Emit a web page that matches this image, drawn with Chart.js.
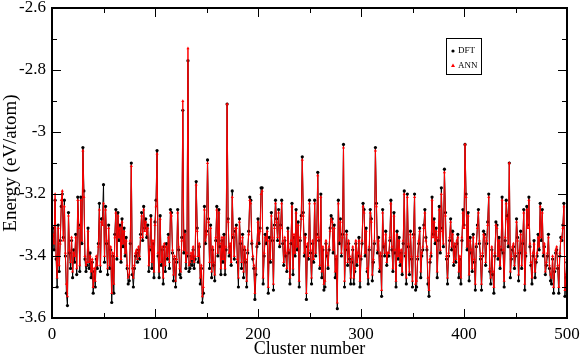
<!DOCTYPE html>
<html>
<head>
<meta charset="utf-8">
<script src="https://cdn.jsdelivr.net/npm/chart.js@4.4.1/dist/chart.umd.min.js"></script>
<style>
  html, body { margin: 0; padding: 0; background: #fff; }
  #wrap { width: 581px; height: 360px; position: relative; }
</style>
</head>
<body>
<div id="wrap"><canvas id="energyChart"></canvas></div>
<script>
// --- Data ---
const dftEnergy = [
  -3.31,-3.38,-3.22,-3.41,-3.50,-3.30,-3.45,-3.35,-3.24,-3.20,
  -3.34,-3.22,-3.40,-3.52,-3.56,-3.26,-3.39,-3.44,-3.35,-3.47,
  -3.38,-3.42,-3.33,-3.46,-3.21,-3.30,-3.45,-3.21,-3.36,-3.05,
  -3.19,-3.41,-3.45,-3.43,-3.31,-3.44,-3.39,-3.47,-3.42,-3.52,
  -3.45,-3.50,-3.41,-3.44,-3.36,-3.23,-3.45,-3.28,-3.28,-3.17,
  -3.42,-3.24,-3.36,-3.46,-3.30,-3.44,-3.38,-3.55,-3.40,-3.52,
  -3.33,-3.25,-3.41,-3.26,-3.35,-3.30,-3.42,-3.28,-3.37,-3.31,
  -3.40,-3.34,-3.44,-3.49,-3.48,-3.36,-3.10,-3.46,-3.50,-3.44,
  -3.40,-3.39,-3.42,-3.38,-3.41,-3.33,-3.26,-3.35,-3.24,-3.31,
  -3.28,-3.34,-3.30,-3.45,-3.38,-3.27,-3.44,-3.36,-3.47,-3.29,
  -3.22,-3.06,-3.40,-3.47,-3.27,-3.43,-3.38,-3.49,-3.37,-3.45,
  -3.36,-3.41,-3.33,-3.44,-3.25,-3.26,-3.39,-3.48,-3.41,-3.50,
  -3.42,-3.25,-3.38,-3.46,-3.47,-3.34,-2.93,-3.39,-3.32,-3.44,
  -3.40,-2.77,-3.45,-3.44,-3.40,-3.43,-3.38,-3.44,-3.41,-3.16,
  -3.31,-3.42,-3.37,-3.49,-3.44,-3.55,-3.52,-3.24,-3.36,-3.32,
  -3.09,-3.28,-3.44,-3.30,-3.47,-3.38,-3.43,-3.48,-3.35,-3.24,
  -3.40,-3.25,-3.37,-3.46,-3.35,-3.42,-3.33,-3.46,-3.38,-2.91,
  -3.28,-3.40,-3.37,-3.43,-3.19,-3.34,-3.41,-3.32,-3.30,-3.42,
  -3.50,-3.28,-3.36,-3.44,-3.33,-3.47,-3.38,-3.42,-3.50,-3.39,
  -3.32,-3.21,-3.22,-3.36,-3.41,-3.44,-3.54,-3.46,-3.37,-3.28,
  -3.36,-3.31,-3.18,-3.18,-3.49,-3.40,-3.33,-3.36,-3.31,-3.52,
  -3.34,-3.42,-3.26,-3.35,-3.51,-3.30,-3.22,-3.28,-3.35,-3.25,
  -3.37,-3.30,-3.22,-3.36,-3.43,-3.35,-3.40,-3.45,-3.31,-3.39,
  -3.49,-3.36,-3.23,-3.46,-3.34,-3.40,-3.25,-3.38,-3.29,-3.50,
  -3.35,-3.27,-3.08,-3.26,-3.40,-3.33,-3.54,-3.37,-3.41,-3.22,
  -3.39,-3.49,-3.36,-3.42,-3.22,-3.40,-3.33,-3.13,-3.35,-3.44,
  -3.20,-3.47,-3.38,-3.51,-3.50,-3.36,-3.40,-3.44,-3.38,-3.31,
  -3.27,-3.28,-3.39,-3.30,-3.47,-3.41,-3.57,-3.22,-3.36,-3.28,
  -3.40,-3.33,-3.04,-3.50,-3.38,-3.32,-3.43,-3.36,-3.41,-3.49,
  -3.42,-3.38,-3.49,-3.45,-3.36,-3.43,-3.40,-3.34,-3.50,-3.41,
  -3.36,-3.23,-3.25,-3.40,-3.31,-3.45,-3.49,-3.38,-3.25,-3.28,
  -3.48,-3.42,-3.36,-3.05,-3.23,-3.39,-3.34,-3.45,-3.40,-3.53,
  -3.25,-3.37,-3.40,-3.32,-3.43,-3.40,-3.40,-3.35,-3.22,-3.38,
  -3.45,-3.26,-3.39,-3.50,-3.32,-3.41,-3.34,-3.43,-3.39,-3.46,
  -3.36,-3.19,-3.40,-3.49,-3.20,-3.37,-3.46,-3.32,-3.41,-3.50,
  -3.33,-3.20,-3.51,-3.50,-3.41,-3.36,-3.31,-3.47,-3.40,-3.38,
  -3.30,-3.25,-3.34,-3.38,-3.49,-3.53,-3.42,-3.40,-3.21,-3.33,
  -3.28,-3.36,-3.31,-3.47,-3.35,-3.24,-3.39,-3.18,-3.31,-3.37,
  -3.12,-3.26,-3.41,-3.49,-3.40,-3.35,-3.28,-3.38,-3.32,-3.43,
  -3.37,-3.42,-3.36,-3.33,-3.47,-3.41,-3.49,-3.35,-3.25,-3.30,
  -3.04,-3.20,-3.38,-3.26,-3.48,-3.34,-3.39,-3.45,-3.33,-3.42,
  -3.51,-3.37,-3.30,-3.25,-3.36,-3.41,-3.51,-3.40,-3.32,-3.33,
  -3.43,-3.36,-3.29,-3.20,-3.45,-3.49,-3.38,-3.46,-3.52,-3.40,
  -3.29,-3.30,-3.41,-3.34,-3.44,-3.38,-3.21,-3.39,-3.50,-3.35,
  -3.22,-3.27,-3.37,-3.10,-3.47,-3.41,-3.38,-3.37,-3.44,-3.40,
  -3.28,-3.34,-3.48,-3.39,-3.32,-3.44,-3.36,-3.25,-3.51,-3.40,
  -3.24,-3.30,-3.21,-3.37,-3.43,-3.49,-3.40,-3.35,-3.47,-3.42,
  -3.40,-3.33,-3.38,-3.23,-3.35,-3.25,-3.40,-3.37,-3.46,-3.43,
  -3.40,-3.33,-3.44,-3.48,-3.49,-3.41,-3.52,-3.45,-3.39,-3.38,
  -3.44,-3.52,-3.40,-3.34,-3.35,-3.30,-3.23,-3.53,-3.47,-3.42
];

const annEnergy = [
  -3.33,-3.36,-3.20,-3.40,-3.47,-3.31,-3.43,-3.36,-3.22,-3.19,
  -3.35,-3.24,-3.39,-3.49,-3.53,-3.27,-3.38,-3.42,-3.34,-3.45,
  -3.39,-3.40,-3.34,-3.44,-3.22,-3.31,-3.43,-3.22,-3.35,-3.06,
  -3.21,-3.40,-3.43,-3.42,-3.32,-3.42,-3.40,-3.45,-3.41,-3.50,
  -3.44,-3.48,-3.40,-3.43,-3.37,-3.25,-3.43,-3.29,-3.30,-3.23,
  -3.40,-3.25,-3.35,-3.44,-3.31,-3.43,-3.37,-3.52,-3.39,-3.49,
  -3.34,-3.26,-3.40,-3.27,-3.34,-3.31,-3.41,-3.29,-3.36,-3.32,
  -3.39,-3.35,-3.43,-3.47,-3.46,-3.35,-3.11,-3.44,-3.47,-3.43,
  -3.39,-3.38,-3.41,-3.37,-3.40,-3.34,-3.27,-3.34,-3.25,-3.32,
  -3.29,-3.33,-3.31,-3.43,-3.37,-3.28,-3.42,-3.35,-3.45,-3.30,
  -3.24,-3.07,-3.39,-3.45,-3.28,-3.42,-3.37,-3.47,-3.36,-3.43,
  -3.37,-3.40,-3.34,-3.42,-3.26,-3.27,-3.38,-3.46,-3.40,-3.48,
  -3.41,-3.26,-3.37,-3.44,-3.45,-3.35,-2.90,-3.38,-3.33,-3.42,
  -3.39,-2.73,-3.43,-3.42,-3.39,-3.41,-3.37,-3.42,-3.40,-3.17,
  -3.32,-3.40,-3.36,-3.47,-3.43,-3.53,-3.50,-3.25,-3.35,-3.33,
  -3.10,-3.29,-3.42,-3.31,-3.45,-3.37,-3.42,-3.46,-3.34,-3.25,
  -3.39,-3.26,-3.36,-3.44,-3.34,-3.41,-3.34,-3.44,-3.37,-2.91,
  -3.29,-3.39,-3.36,-3.42,-3.21,-3.33,-3.40,-3.31,-3.31,-3.41,
  -3.47,-3.29,-3.35,-3.42,-3.34,-3.45,-3.37,-3.41,-3.48,-3.38,
  -3.33,-3.22,-3.23,-3.35,-3.40,-3.43,-3.52,-3.44,-3.36,-3.29,
  -3.35,-3.32,-3.20,-3.19,-3.47,-3.39,-3.34,-3.35,-3.32,-3.50,
  -3.35,-3.41,-3.27,-3.34,-3.49,-3.31,-3.23,-3.29,-3.34,-3.26,
  -3.36,-3.31,-3.23,-3.35,-3.42,-3.34,-3.39,-3.44,-3.32,-3.38,
  -3.47,-3.35,-3.24,-3.44,-3.33,-3.39,-3.26,-3.37,-3.30,-3.48,
  -3.34,-3.28,-3.09,-3.27,-3.39,-3.34,-3.52,-3.36,-3.40,-3.23,
  -3.38,-3.47,-3.35,-3.41,-3.23,-3.39,-3.34,-3.14,-3.34,-3.43,
  -3.21,-3.45,-3.37,-3.49,-3.48,-3.35,-3.39,-3.43,-3.37,-3.32,
  -3.28,-3.29,-3.38,-3.31,-3.45,-3.40,-3.55,-3.23,-3.35,-3.29,
  -3.39,-3.34,-3.05,-3.48,-3.37,-3.33,-3.42,-3.35,-3.40,-3.47,
  -3.41,-3.37,-3.47,-3.44,-3.35,-3.42,-3.39,-3.35,-3.48,-3.40,
  -3.35,-3.24,-3.26,-3.39,-3.32,-3.44,-3.47,-3.37,-3.26,-3.29,
  -3.46,-3.41,-3.35,-3.06,-3.24,-3.38,-3.35,-3.44,-3.39,-3.51,
  -3.26,-3.36,-3.39,-3.33,-3.42,-3.39,-3.39,-3.34,-3.23,-3.37,
  -3.44,-3.27,-3.38,-3.48,-3.33,-3.40,-3.35,-3.42,-3.38,-3.45,
  -3.35,-3.20,-3.39,-3.47,-3.21,-3.36,-3.45,-3.33,-3.40,-3.48,
  -3.34,-3.21,-3.49,-3.48,-3.40,-3.35,-3.32,-3.45,-3.39,-3.37,
  -3.31,-3.26,-3.35,-3.37,-3.47,-3.51,-3.41,-3.39,-3.22,-3.34,
  -3.29,-3.35,-3.32,-3.45,-3.34,-3.25,-3.38,-3.20,-3.32,-3.36,
  -3.13,-3.27,-3.40,-3.47,-3.39,-3.34,-3.29,-3.37,-3.33,-3.42,
  -3.36,-3.41,-3.35,-3.34,-3.45,-3.40,-3.47,-3.34,-3.26,-3.31,
  -3.04,-3.21,-3.37,-3.27,-3.46,-3.35,-3.38,-3.44,-3.34,-3.41,
  -3.49,-3.36,-3.31,-3.26,-3.35,-3.40,-3.49,-3.39,-3.33,-3.34,
  -3.42,-3.35,-3.30,-3.21,-3.44,-3.47,-3.37,-3.45,-3.50,-3.39,
  -3.30,-3.31,-3.40,-3.35,-3.43,-3.37,-3.22,-3.38,-3.48,-3.34,
  -3.23,-3.28,-3.36,-3.10,-3.45,-3.40,-3.37,-3.36,-3.43,-3.39,
  -3.29,-3.35,-3.46,-3.38,-3.33,-3.43,-3.35,-3.26,-3.49,-3.39,
  -3.25,-3.31,-3.22,-3.36,-3.42,-3.47,-3.39,-3.36,-3.45,-3.41,
  -3.39,-3.34,-3.37,-3.24,-3.34,-3.26,-3.39,-3.36,-3.45,-3.42,
  -3.39,-3.34,-3.43,-3.46,-3.47,-3.40,-3.50,-3.44,-3.38,-3.37,
  -3.43,-3.50,-3.39,-3.35,-3.34,-3.31,-3.24,-3.51,-3.46,-3.41
];

const xTicks = [0, 100, 200, 300, 400, 500];
const yTicks = [-3.6, -3.4, -3.2, -3.0, -2.8, -2.6];
const xMinorStep = 50;
const yMinorStep = 0.1;

const serif = '"Liberation Serif", "DejaVu Serif", serif';

// cluster number = position in the list
const toPoints = arr => arr.map((v, i) => ({ x: i + 1, y: v }));

// --- Frame, inward ticks and legend box (xmgrace style) ---
const framePlugin = {
    id: 'frame',
    afterDraw(chart) {
        const { ctx, chartArea: a, scales: { x, y } } = chart;
        ctx.save();
        ctx.strokeStyle = '#000';

        ctx.lineWidth = 1;
        const tick = (px, len, vertical) => {
            ctx.beginPath();
            if (vertical) {
                ctx.moveTo(px, a.bottom); ctx.lineTo(px, a.bottom - len);
                ctx.moveTo(px, a.top); ctx.lineTo(px, a.top + len);
            } else {
                ctx.moveTo(a.left, px); ctx.lineTo(a.left + len, px);
                ctx.moveTo(a.right, px); ctx.lineTo(a.right - len, px);
            }
            ctx.stroke();
        };
        for (let v = xTicks[0]; v <= xTicks[xTicks.length - 1]; v += xMinorStep) {
            const major = xTicks.includes(v);
            tick(Math.round(x.getPixelForValue(v)) + 0.5, major ? 9 : 5, true);
        }
        for (let k = 0; k <= 10; k++) {
            const v = yTicks[0] + k * yMinorStep;
            tick(Math.round(y.getPixelForValue(v)) + 0.5, k % 2 === 0 ? 9 : 5, false);
        }

        ctx.lineWidth = 2;
        ctx.strokeRect(a.left, a.top, a.right - a.left, a.bottom - a.top);

        // legend
        ctx.lineWidth = 1;
        ctx.strokeRect(446.5, 38.5, 35, 36);
        ctx.fillStyle = '#000';
        ctx.beginPath();
        ctx.arc(453, 51, 1.6, 0, Math.PI * 2);
        ctx.fill();
        ctx.fillStyle = '#ff0000';
        ctx.beginPath();
        ctx.moveTo(453, 63.5); ctx.lineTo(455, 67); ctx.lineTo(451, 67);
        ctx.closePath();
        ctx.fill();
        ctx.fillStyle = '#000';
        ctx.font = '9px ' + serif;
        ctx.textBaseline = 'middle';
        ctx.fillText('DFT', 458, 51);
        ctx.fillText('ANN', 458, 66);
        ctx.restore();
    }
};

const ctx = document.getElementById('energyChart').getContext('2d');
new Chart(ctx, {
    type: 'line',
    data: {
        datasets: [
            {
                label: 'ANN',
                data: toPoints(annEnergy),
                borderColor: '#ff0000',
                backgroundColor: '#ff0000',
                borderWidth: 1,
                pointStyle: 'triangle',
                pointRadius: 1.8,
                pointBorderWidth: 0,
                order: 0
            },
            {
                label: 'DFT',
                data: toPoints(dftEnergy),
                borderColor: '#000000',
                backgroundColor: '#000000',
                borderWidth: 1,
                pointStyle: 'circle',
                pointRadius: 1.6,
                pointBorderWidth: 0,
                order: 1
            }
        ]
    },
    options: {
        responsive: true,
        maintainAspectRatio: false,
        animation: false,
        layout: { padding: { top: 8, right: 14, left: 0, bottom: 0 } },
        plugins: {
            legend: { display: false },
            tooltip: { enabled: false }
        },
        scales: {
            x: {
                type: 'linear',
                min: 0,
                max: 500,
                afterBuildTicks: s => { s.ticks = xTicks.map(v => ({ value: v })); },
                afterFit: s => { s.height = 42; s.paddingLeft = 0; s.paddingRight = 0; },
                grid: { display: false, drawTicks: false },
                border: { display: false },
                ticks: {
                    padding: 6,
                    color: '#000',
                    font: { family: serif, size: 17 }
                },
                title: {
                    display: true,
                    text: 'Cluster number',
                    color: '#000',
                    padding: { top: 0, bottom: 0 },
                    font: { family: serif, size: 18 }
                }
            },
            y: {
                min: -3.6,
                max: -2.6,
                afterBuildTicks: s => { s.ticks = yTicks.map(v => ({ value: v })); },
                afterFit: s => { s.width = 52; s.paddingTop = 0; s.paddingBottom = 0; },
                grid: { display: false, drawTicks: false },
                border: { display: false },
                ticks: {
                    padding: 6,
                    color: '#000',
                    font: { family: serif, size: 17 },
                    callback: v => String(Number(v.toFixed(1)))
                },
                title: {
                    display: true,
                    text: 'Energy (eV/atom)',
                    color: '#000',
                    padding: { top: 0, bottom: 0 },
                    font: { family: serif, size: 19 }
                }
            }
        }
    },
    plugins: [framePlugin]
});
</script>
</body>
</html>
